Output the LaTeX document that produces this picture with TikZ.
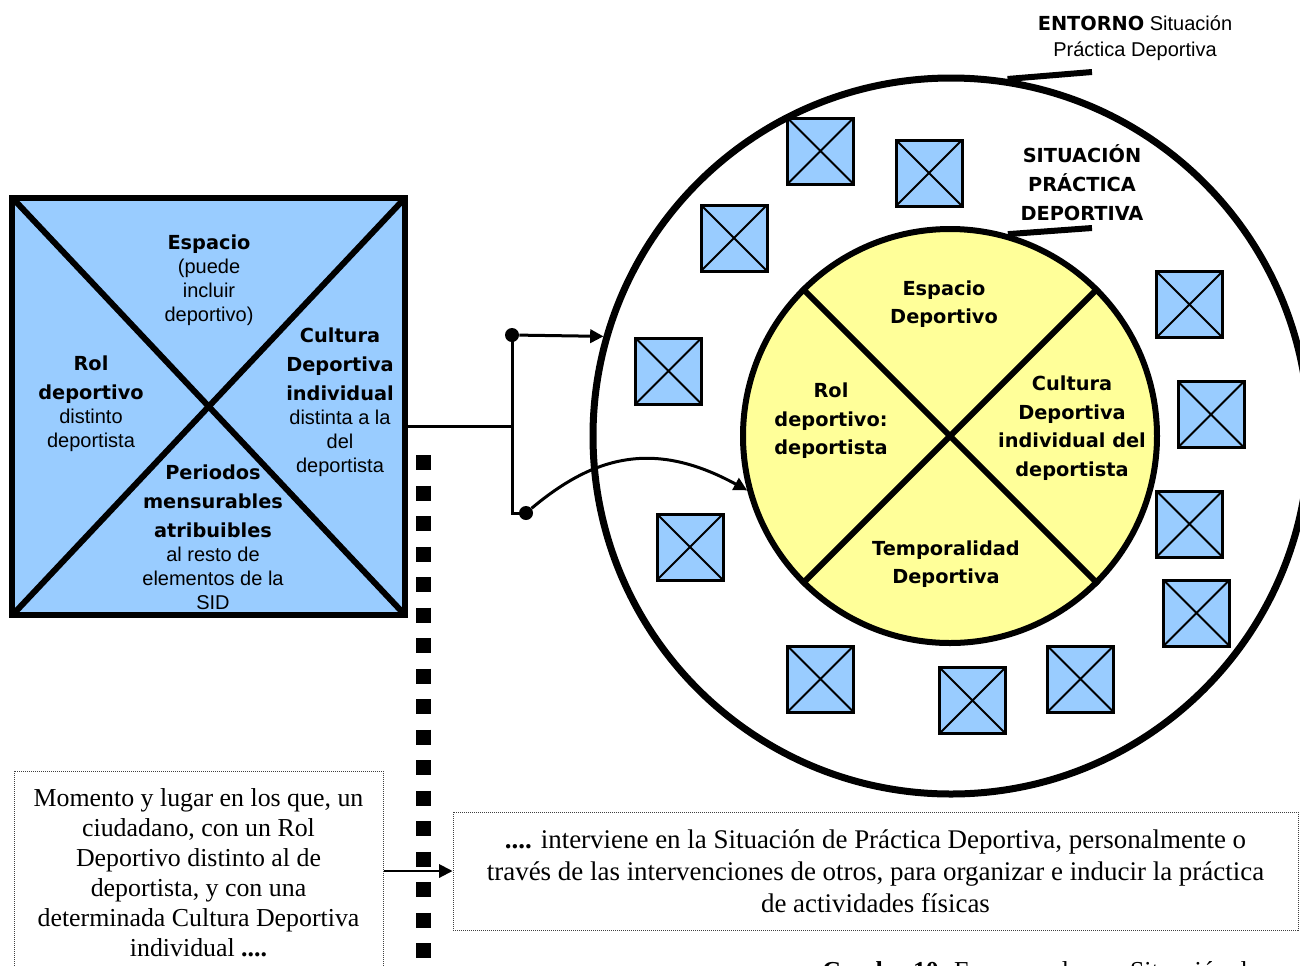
\documentclass[tikz,border=0pt]{standalone}
\usepackage{fontspec}
\setmainfont{Liberation Serif}
\setsansfont{Liberation Sans}
\newfontfamily\hv{DejaVu Sans}
\usetikzlibrary{arrows.meta}
\definecolor{lblue}{HTML}{99CCFF}
\definecolor{lyel}{HTML}{FFFF99}
\newcommand\hb[1]{{\hv\bfseries\fontsize{14.5}{18}\selectfont #1}}
\begin{document}
\begin{tikzpicture}[x=0.75pt,y=-0.75pt,
  smallsq/.style={draw,line width=2.25pt,fill=lblue,minimum width=49.5pt,minimum height=49.5pt,inner sep=0pt,
    path picture={\draw[line width=1.5pt] (path picture bounding box.north west)--(path picture bounding box.south east)
      (path picture bounding box.north east)--(path picture bounding box.south west);}},
  heavyln/.style={line width=4.5pt},
  connln/.style={line width=2.25pt},
  tipa/.style={-{Triangle[length=10pt,width=10pt]}},
  dotnode/.style={circle,fill=black,minimum size=10.5pt,inner sep=0pt},
  sanstxt/.style={font=\sffamily\fontsize{15}{18}\selectfont,align=center,inner sep=0pt},
  boldtxt/.style={font=\hv\bfseries\fontsize{14.5}{21.4}\selectfont,align=center,inner sep=0pt},
  serif/.style={font=\rmfamily\fontsize{19.4}{22.5}\selectfont,align=center,inner sep=0pt},
  dotbox/.style={draw=black!75,line width=0.75pt,dash pattern=on 0.75pt off 0.75pt}
]
\useasboundingbox (0,0) rectangle (1300,965);

% ---------- right: outer circle ----------
\node[circle,draw,line width=5.25pt,fill=white,minimum size=537pt,inner sep=0pt] (O) at (951,436) {};

% small boxes
\node[smallsq] (s1) at (820.5,151) {};
\node[smallsq] (s2) at (929,173) {};
\node[smallsq] (s3) at (734,238) {};
\node[smallsq] (s4) at (668.5,371) {};
\node[smallsq] (s5) at (1189.5,304.5) {};
\node[smallsq] (s6) at (1211,414.5) {};
\node[smallsq] (s7) at (1189.5,524) {};
\node[smallsq] (s8) at (1196.5,613) {};
\node[smallsq] (s9) at (690,547) {};
\node[smallsq] (s10) at (820.5,679) {};
\node[smallsq] (s11) at (972.5,700.5) {};
\node[smallsq] (s12) at (1080.5,679) {};

% inner circle
\node[circle,draw,line width=4.5pt,fill=lyel,minimum size=310.5pt,inner sep=0pt] (I) at (950,436) {};
\draw[heavyln] (I.135) -- (I.-45);
\draw[heavyln] (I.45) -- (I.-135);

\node[boldtxt] (ie) at (944,304) {Espacio\\Deportivo};
\node[boldtxt] (ir) at (831,421) {Rol\\deportivo:\\deportista};
\node[boldtxt] (ic) at (1072,428) {Cultura\\Deportiva\\individual del\\deportista};
\node[boldtxt] (it) at (946,564) {Temporalidad\\Deportiva};

% labels top right
\node[sanstxt,font=\sffamily\fontsize{15}{19.5}\selectfont] (ent) at (1135,38) {\hb{ENTORNO} Situación\\Práctica Deportiva};
\node[boldtxt,font=\hv\bfseries\fontsize{14.5}{21.75}\selectfont] (spd) at (1082,183) {SITUACIÓN\\PRÁCTICA\\DEPORTIVA};
\coordinate (e1) at (1092,72);
\coordinate (e2) at (1092,228);
\draw[heavyln] (O.81) -- (e1);
\draw[heavyln] (I.74) -- (e2);

% ---------- left square ----------
\node[draw,line width=4.5pt,fill=lblue,outer sep=0pt,minimum width=294.4pt,minimum height=312.75pt,inner sep=0pt] (L) at (208.75,406.5) {};
\draw[heavyln] (L.north west) -- (L.south east);
\draw[heavyln] (L.north east) -- (L.south west);

\node[sanstxt] (le) at (209,280) {\hb{Espacio}\\(puede\\incluir\\deportivo)};
\node[sanstxt] (lr) at (91,404) {\hb{Rol}\\[3.75pt]\hb{deportivo}\\distinto\\deportista};
\node[sanstxt] (lc) at (340,402) {\hb{Cultura}\\[3.75pt]\hb{Deportiva}\\[3.75pt]\hb{individual}\\distinta a la\\del\\deportista};
\node[sanstxt] (lp) at (213,537) {\hb{Periodos}\\[3.75pt]\hb{mensurables}\\[3.75pt]\hb{atribuibles}\\al resto de\\elementos de la\\SID};

% ---------- connectors ----------
\node[dotnode] (d1) at (512,335) {};
\node[dotnode] (d2) at (526,513) {};
\coordinate (j) at (512,426);
\draw[connln] (L.east |- j) -- (j);
\draw[connln] (d1.center) |- (d2.center);
\draw[connln,tipa] (d1) -- (O.164);
\draw[connln,tipa] (d2) .. controls (595,455) and (655,440) .. (I.195);

% thick dotted separator
\coordinate (dt) at (423.5,455);
\coordinate (db) at (423.5,975);
\draw[line width=11.25pt,dash pattern=on 11.25pt off 11.625pt] (dt) -- (db);

% ---------- bottom boxes ----------
\node[dotbox,minimum width=276.75pt,minimum height=178.5pt,inner sep=0pt] (lbox) at (198.5,890) {};
\node[serif] (ltxt) at (198.5,873) {Momento y lugar en los que, un\\ciudadano, con un Rol\\Deportivo distinto al de\\deportista, y con una\\determinada Cultura Deportiva\\individual \textbf{....}};

\node[dotbox,serif,font=\rmfamily\fontsize{20.2}{24}\selectfont,minimum width=633.75pt,minimum height=88.5pt] (rbox) at (875.5,871)
  {\textbf{....} interviene en la Situación de Práctica Deportiva, personalmente o\\través de las intervenciones de otros, para organizar e inducir la práctica\\de actividades físicas};

\draw[line width=1.5pt,tipa] (lbox.east |- rbox.west) -- (rbox.west);

\node[anchor=base west,font=\rmfamily\fontsize{19.4}{22}\selectfont,inner sep=0pt] (cap) at (822,979) {\textbf{Cuadro 10.} Esquema de una Situación de};
\end{tikzpicture}
\end{document}
